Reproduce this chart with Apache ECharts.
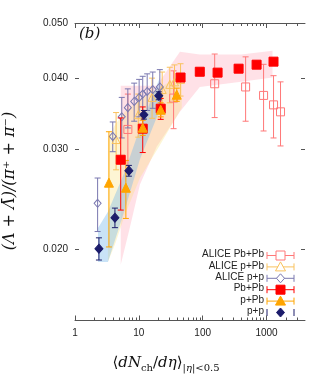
<!DOCTYPE html>
<html><head><meta charset="utf-8">
<script src="https://cdn.jsdelivr.net/npm/echarts@6/dist/echarts.min.js"></script>
<style>html,body{margin:0;padding:0;background:#fff}#c{width:332px;height:380px}</style>
</head><body><div id="c"></div>
<script>
// ---- data ----
// ALICE Pb+Pb (open squares)
const alicePbPbX = [6.73, 35, 154, 470, 898, 1286, 1655];
const alicePbPbY = [0.0325, 0.0369, 0.0391, 0.0386, 0.0373, 0.0359, 0.0349];
const alicePbPbE = [0.0050, 0.0043, 0.0050, 0.0050, 0.0050, 0.0045, 0.0045];
// ALICE p+Pb (open triangles)
const alicePPbX = [4.4, 9.8, 16.1, 23.2, 30.5, 36.2, 45];
const alicePPbY = [0.0312, 0.0345, 0.0370, 0.0382, 0.0390, 0.0394, 0.0398];
const alicePPbE = [0.0036, 0.0030, 0.0030, 0.0028, 0.0028, 0.0028, 0.0026];
// ALICE p+p (open diamonds)
const alicePPX = [2.26, 3.90, 5.40, 6.72, 8.45, 10.1, 11.5, 13.5, 16.5, 21.3];
const alicePPY = [0.0241, 0.0316, 0.0342, 0.0355, 0.0364, 0.0370, 0.0375, 0.0379, 0.0382, 0.0386];
const alicePPE = [0.0026, 0.0019, 0.0028, 0.0028, 0.0028, 0.0028, 0.0028, 0.0028, 0.0028, 0.0028];
// Pb+Pb (filled squares)
const pbpbX = [5.2, 11.5, 22, 45, 90, 171, 365, 698, 1285];
const pbpbY = [0.02875, 0.0326, 0.03535, 0.0401, 0.04105, 0.0409, 0.04156, 0.04224, 0.04276];
const pbpbE = [0.0053, 0.0030, 0.0015, 0.0005, 0.0005, 0.0005, 0.0005, 0.0005, 0.0005];
// p+Pb (filled triangles)
const ppbX = [3.40, 6.26, 11.5, 22, 39.2];
const ppbY = [0.0262, 0.02567, 0.03273, 0.0352, 0.03741];
const ppbE = [0.0060, 0.0030, 0.0010, 0.0010, 0.0010];
// p+p (filled diamonds)
const ppX = [2.37, 4.22, 6.98, 12.0, 20.5];
const ppY = [0.02006, 0.02274, 0.0275, 0.03449, 0.03725];
const ppE = [0.0009, 0.0009, 0.0006, 0.0006, 0.0006];
// bands
const bandPbPbX  = [5.2, 7.2, 10.4, 19, 44, 90, 400, 1240];
const bandPbPbLo = [0.0188, 0.0218, 0.0260, 0.0303, 0.0349, 0.0386, 0.0394, 0.0401];
const bandPbPbHi = [0.0388, 0.0388, 0.0388, 0.0388, 0.0445, 0.0440, 0.0440, 0.0447];
const bandPPbX  = [3.28, 4.22, 6.04, 10.4, 21.3, 47];
const bandPPbLo = [0.0190, 0.0204, 0.0230, 0.0267, 0.0305, 0.0355];
const bandPPbHi = [0.0314, 0.0331, 0.0349, 0.0367, 0.0385, 0.0405];
const bandPPX  = [2.29, 3.28, 6.04, 10.4, 21.3];
const bandPPLo = [0.0190, 0.0190, 0.0235, 0.0288, 0.0352];
const bandPPHi = [0.0218, 0.0233, 0.0274, 0.0327, 0.0401];
// ticks
const xMajor = [1, 10, 100, 1000];
const xMinor = [2,3,4,5,6,7,8,9,20,30,40,50,60,70,80,90,200,300,400,500,600,700,800,900,2000,3000];
const yTicks = [0.02, 0.03, 0.04, 0.05];

// ---- chart ----
const chart = echarts.init(document.getElementById('c'), null, {renderer: 'canvas'});
const AX = '#555';
const LBL = '#222';
const zip = (a, b, c) => a.map((v, i) => c ? [v, b[i], c[i]] : [v, b[i]]);

function band(xs, lo, hi, fill) {
  return {
    type: 'custom', silent: true, z: 1, clip: true,
    data: zip(xs, lo, hi), encode: {x: 0, y: [1, 2]},
    renderItem: (params, api) => {
      if (params.dataIndex !== 0) return null;
      const pts = [];
      for (let i = 0; i < xs.length; i++) pts.push(api.coord([xs[i], hi[i]]));
      for (let i = xs.length - 1; i >= 0; i--) pts.push(api.coord([xs[i], lo[i]]));
      return {type: 'polygon', shape: {points: pts}, style: {fill: fill}};
    }
  };
}
function errs(xs, ys, es, color, z) {
  return {
    type: 'custom', silent: true, z: z,
    data: zip(xs, ys, es), encode: {x: 0, y: 1},
    renderItem: (params, api) => {
      const x = api.value(0), y = api.value(1), e = api.value(2);
      const t = api.coord([x, y + e]), b = api.coord([x, y - e]);
      const w = 3;
      const st = {stroke: color, lineWidth: 1};
      return {type: 'group', children: [
        {type: 'line', shape: {x1: t[0], y1: t[1], x2: b[0], y2: b[1]}, style: st},
        {type: 'line', shape: {x1: t[0] - w, y1: t[1], x2: t[0] + w, y2: t[1]}, style: st},
        {type: 'line', shape: {x1: b[0] - w, y1: b[1], x2: b[0] + w, y2: b[1]}, style: st}
      ]};
    }
  };
}
function marks(xs, ys, symbol, size, fill, stroke, z) {
  return {
    type: 'scatter', z: z, symbol: symbol, symbolSize: size,
    data: zip(xs, ys),
    itemStyle: {color: fill, borderColor: stroke, borderWidth: 1, opacity: 1},
    emphasis: {disabled: true}
  };
}

const cAPbPb = '#ff7878', cAPPb = '#f9c25e', cAPP = '#7a78b0';
const cPbPb = '#ff0000', cPPb = '#ffa500', cPP = '#1c1c6b';

const baseX = {type: 'log', logBase: 10, min: 1, max: 4000, gridIndex: 0, splitLine: {show: false}};
const baseY = {type: 'log', logBase: 10, min: 0.015, max: 0.05, gridIndex: 0, splitLine: {show: false}};

// legend graphics
const legRows = [
  {name: 'ALICE Pb+Pb', color: cAPbPb, sym: 'square', open: true, line: true},
  {name: 'ALICE p+Pb', color: cAPPb, sym: 'triangle', open: true, line: true},
  {name: 'ALICE p+p', color: cAPP, sym: 'diamond', open: true, line: true},
  {name: 'Pb+Pb', color: cPbPb, sym: 'square', open: false, line: true},
  {name: 'p+Pb', color: cPPb, sym: 'triangle', open: false, line: true},
  {name: 'p+p', color: cPP, sym: 'diamond', open: false, line: false}
];
const legendEls = [];
legRows.forEach((r, i) => {
  const y = 255.5 + i * 11.4;
  const xL = 267, xR = 294, xc = 280.5;
  legendEls.push({type: 'text', right: 332 - 264, top: y - 6, style: {text: r.name, fill: LBL, font: '10px "Liberation Sans", Arial, sans-serif', textAlign: 'right'}});
  const st = {stroke: r.color, lineWidth: 1};
  if (r.line) legendEls.push({type: 'line', shape: {x1: xL, y1: y, x2: xR, y2: y}, style: st});
  legendEls.push({type: 'line', shape: {x1: xL, y1: y - 3.5, x2: xL, y2: y + 3.5}, style: st});
  legendEls.push({type: 'line', shape: {x1: xR, y1: y - 3.5, x2: xR, y2: y + 3.5}, style: st});
  const fill = r.open ? '#fff' : r.color;
  const sst = {fill: fill, stroke: r.color, lineWidth: 1};
  if (r.sym === 'square') legendEls.push({type: 'rect', shape: {x: xc - 4.5, y: y - 4.5, width: 9, height: 9}, style: sst});
  if (r.sym === 'triangle') legendEls.push({type: 'polygon', shape: {points: [[xc, y - 5], [xc + 5, y + 4], [xc - 5, y + 4]]}, style: sst});
  if (r.sym === 'diamond') legendEls.push({type: 'polygon', shape: {points: [[xc, y - 4.5], [xc + 4, y], [xc, y + 4.5], [xc - 4, y]]}, style: sst});
});

const option = {
  animation: false,
  backgroundColor: '#fff',
  grid: {left: 75, right: 27, top: 23, bottom: 59.5, containLabel: false},
  xAxis: [
    Object.assign({}, baseX, {position: 'bottom',
      axisLine: {show: true, lineStyle: {color: AX, width: 1}},
      axisTick: {show: true, inside: true, length: 5, customValues: xMajor, lineStyle: {color: AX}},
      axisLabel: {show: true, customValues: xMajor, margin: 8, color: LBL, fontSize: 10, fontFamily: '"Liberation Sans", Arial, sans-serif', formatter: v => String(Math.round(v))}}),
    Object.assign({}, baseX, {position: 'bottom',
      axisLine: {show: false},
      axisTick: {show: true, inside: true, length: 3, customValues: xMinor, lineStyle: {color: AX}},
      axisLabel: {show: false}}),
    Object.assign({}, baseX, {position: 'top',
      axisLine: {show: true, lineStyle: {color: AX, width: 1}},
      axisTick: {show: true, inside: true, length: 5, customValues: xMajor, lineStyle: {color: AX}},
      axisLabel: {show: false}}),
    Object.assign({}, baseX, {position: 'top',
      axisLine: {show: false},
      axisTick: {show: true, inside: true, length: 3, customValues: xMinor, lineStyle: {color: AX}},
      axisLabel: {show: false}})
  ],
  yAxis: [
    Object.assign({}, baseY, {position: 'left',
      axisLine: {show: false},
      axisTick: {show: true, inside: true, length: 4, customValues: yTicks, lineStyle: {color: AX}},
      axisLabel: {show: true, customValues: yTicks, margin: 7, color: LBL, fontSize: 10, fontFamily: '"Liberation Sans", Arial, sans-serif', formatter: v => v.toFixed(3)}}),
    Object.assign({}, baseY, {position: 'right',
      axisLine: {show: false},
      axisTick: {show: true, inside: true, length: 4, customValues: yTicks, lineStyle: {color: AX}},
      axisLabel: {show: false}})
  ],
  series: [
    band(bandPbPbX, bandPbPbLo, bandPbPbHi, 'rgba(255,165,182,0.33)'),
    band(bandPPbX, bandPPbLo, bandPPbHi, 'rgba(250,225,120,0.32)'),
    band(bandPPX, bandPPLo, bandPPHi, 'rgba(120,185,235,0.40)'),
    errs(alicePbPbX, alicePbPbY, alicePbPbE, cAPbPb, 3),
    errs(alicePPbX, alicePPbY, alicePPbE, cAPPb, 3),
    errs(alicePPX, alicePPY, alicePPE, cAPP, 3),
    marks(alicePbPbX, alicePbPbY, 'rect', 8, 'rgba(0,0,0,0)', cAPbPb, 4),
    marks(alicePPbX, alicePPbY, 'triangle', 8, 'rgba(0,0,0,0)', cAPPb, 4),
    marks(alicePPX, alicePPY, 'diamond', [7, 8], 'rgba(0,0,0,0)', cAPP, 4),
    errs(pbpbX, pbpbY, pbpbE, cPbPb, 5),
    errs(ppbX, ppbY, ppbE, cPPb, 5),
    errs(ppX, ppY, ppE, cPP, 5),
    marks(pbpbX, pbpbY, 'rect', 9, cPbPb, cPbPb, 6),
    marks(ppbX, ppbY, 'triangle', 9, cPPb, cPPb, 6),
    marks(ppX, ppY, 'diamond', [8, 9], cPP, cPP, 6)
  ],
  graphic: [
    {type: 'text', left: 79, top: 27, style: {text: '(b)', fill: '#111', font: 'italic 15px "DejaVu Serif", "Liberation Serif", serif'}},
    {type: 'text', left: 'center', top: 356, x: 0, style: {
      rich: {
        i: {fontFamily: '"DejaVu Serif", serif', fontStyle: 'italic', fontSize: 15, fill: '#111'},
        r: {fontFamily: '"DejaVu Serif", serif', fontSize: 15, fill: '#111'},
        s: {fontFamily: '"DejaVu Serif", serif', fontSize: 10, fill: '#111', padding: [9, 0, 0, 0]},
        si: {fontFamily: '"DejaVu Serif", serif', fontStyle: 'italic', fontSize: 10, fill: '#111', padding: [9, 0, 0, 0]}
      },
      text: '{r|⟨}{i|dN}{s|ch}{r|/}{i|dη}{r|⟩}{s||}{si|η}{s||<0.5}'
    }},
    {type: 'text', x: 10, y: 181, rotation: Math.PI / 2, style: {
      text: '(Λ + Λ̄)/(π⁺ + π⁻)', fill: '#111', font: 'italic 16px "DejaVu Serif", "Liberation Serif", serif',
      textAlign: 'center', textVerticalAlign: 'middle'}}
  ].concat(legendEls)
};
chart.setOption(option);
</script>
</body></html>
